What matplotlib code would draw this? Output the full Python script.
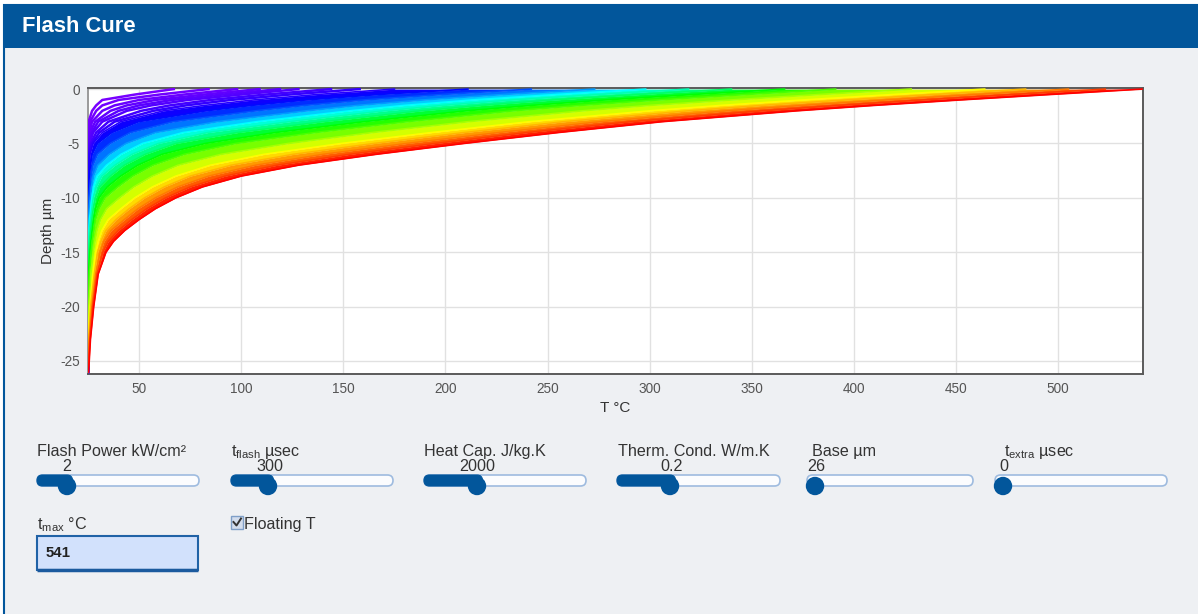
import matplotlib
matplotlib.use("Agg")
import matplotlib.pyplot as plt
from matplotlib.colors import hsv_to_rgb
from matplotlib.patches import Rectangle, FancyBboxPatch, Circle
import numpy as np

plt.rcParams['font.family'] = ['Liberation Sans', 'DejaVu Sans']
plt.rcParams['mathtext.fontset'] = 'custom'
plt.rcParams['mathtext.rm'] = 'Liberation Sans'
plt.rcParams['mathtext.it'] = 'Liberation Sans:italic'
plt.rcParams['axes.unicode_minus'] = False

### Data

# depth grid (µm below the surface), shared by every profile
depth_um = [0, 0.5, 1, 1.5, 2, 3, 4, 5, 6, 7, 8, 9, 10, 11, 12, 13, 14, 15, 17, 20, 23, 26]
n_steps = 150

# first time steps: separate purple lines
early_steps = [1, 2, 3, 4, 5, 6, 8, 10]
early_temps = [
    [67, 48, 32, 29, 27, 25.3, 25, 25, 25, 25, 25, 25, 25, 25, 25, 25, 25, 25, 25, 25, 25, 25],
    [84, 60, 40, 32, 29, 26, 25.2, 25, 25, 25, 25, 25, 25, 25, 25, 25, 25, 25, 25, 25, 25, 25],
    [98, 72, 50, 38, 32, 27, 25.6, 25, 25, 25, 25, 25, 25, 25, 25, 25, 25, 25, 25, 25, 25, 25],
    [109, 82, 58, 44, 36, 28.5, 26, 25.3, 25, 25, 25, 25, 25, 25, 25, 25, 25, 25, 25, 25, 25, 25],
    [119, 91, 66, 50, 40, 30, 26.8, 25.5, 25, 25, 25, 25, 25, 25, 25, 25, 25, 25, 25, 25, 25, 25],
    [128, 100, 74, 56, 44, 32, 27.5, 25.8, 25.2, 25, 25, 25, 25, 25, 25, 25, 25, 25, 25, 25, 25, 25],
    [144, 112, 85, 65, 51, 35, 29, 26.3, 25.4, 25, 25, 25, 25, 25, 25, 25, 25, 25, 25, 25, 25, 25],
    [158, 124, 95, 73, 57, 38, 30.5, 27, 25.6, 25.2, 25, 25, 25, 25, 25, 25, 25, 25, 25, 25, 25, 25],
]

# later time steps: dense rainbow band
main_steps = [12, 18, 27, 37, 50, 60, 70, 83, 93, 105, 117, 126, 134, 142, 150]
main_temps = [
    [175, 137, 106, 82, 62, 41, 32, 27.5, 26, 25.4, 25, 25, 25, 25, 25, 25, 25, 25, 25, 25, 25, 25],
    [211, 167, 131.5, 105, 82.6, 49.7, 36.6, 29.6, 27, 26.2, 25.6, 25.2, 25, 25, 25, 25, 25, 25, 25, 25, 25, 25],
    [242, 198, 160, 131, 107, 66.6, 45.7, 35.8, 29.6, 27.4, 26.5, 25.9, 25.4, 25, 25, 25, 25, 25, 25, 25, 25, 25],
    [273, 228, 189, 157, 132, 88.1, 58, 43.6, 35.4, 29.8, 27.7, 26.8, 26.1, 25.6, 25.3, 25, 25, 25, 25, 25, 25, 25],
    [298, 254, 213, 180, 153, 107.5, 71.5, 51.7, 41.1, 34.1, 29.4, 27.7, 26.9, 26.3, 25.7, 25.4, 25, 25, 25, 25, 25, 25],
    [319, 275, 233, 199, 170, 123.4, 83.4, 59.4, 46.5, 38.2, 31.8, 29.1, 27.6, 26.9, 26.3, 25.7, 25.4, 25, 25, 25, 25, 25],
    [340, 295, 253, 218, 188, 140, 98, 68, 53, 42.8, 35.9, 30.7, 28.7, 27.6, 26.9, 26.3, 25.8, 25.4, 25, 25, 25, 25],
    [366, 321, 278, 242, 210, 160, 116.5, 82.4, 61.2, 49.4, 41, 34.4, 30.4, 28.7, 27.7, 27, 26.4, 25.9, 25.2, 25, 25, 25],
    [391, 347, 304, 266, 233, 181, 136, 97.3, 72.1, 56.8, 46.9, 39.6, 33.3, 30.4, 28.7, 27.9, 27.1, 26.6, 25.7, 25, 25, 25],
    [428, 383, 340, 300, 267, 211, 164, 123, 90.2, 69.1, 56.5, 47.4, 40.4, 34.1, 31.1, 29.4, 28.4, 27.6, 26.4, 25.4, 25, 25],
    [464, 419, 375, 335, 300, 241, 193, 149, 111.1, 84.9, 68, 56.5, 47.9, 41.1, 34.9, 31.8, 30, 28.8, 27.4, 25.9, 25, 25],
    [484, 439, 396, 355, 319, 258, 209, 165, 125.4, 95.1, 75, 62.3, 52.7, 45.2, 38.7, 33.8, 31.4, 29.7, 28.1, 26.3, 25.3, 25],
    [505, 460, 416, 375, 338, 276, 226, 181, 140.1, 107, 84.1, 68.9, 58, 49.5, 42.8, 36.3, 32.8, 31, 28.8, 26.9, 25.6, 25],
    [523, 478, 434, 393, 355, 291, 240, 195, 153, 117.5, 92.1, 75, 63, 53.8, 46.4, 39.9, 34.9, 32.3, 29.4, 27.3, 25.9, 25],
    [541, 496, 452, 410, 372, 306, 255, 209, 166, 128, 100, 81, 68, 58, 50, 43, 37.5, 33.8, 30, 27.8, 26.2, 25.3],
]

x_ticks = [50, 100, 150, 200, 250, 300, 350, 400, 450, 500]
y_ticks = [0, -5, -10, -15, -20, -25]

# control panel texts
slider_labels = ['Flash Power kW/cm²', r'$\mathrm{t}_{\mathrm{flash}}$ µsec', 'Heat Cap. J/kg.K',
                 'Therm. Cond. W/m.K', 'Base µm', r'$\mathrm{t}_{\mathrm{extra}}$ µsec']
slider_values = ['2', '300', '2000', '0.2', '26', '0']
tmax_value = '541'

# layout (pixels): track left, track right, knob x, value text centre x
slider_track_x0 = [37, 231, 424, 617, 807, 995]
slider_track_x1 = [199, 393, 586, 780, 973, 1167]
slider_knob_x = [67, 268, 477, 670, 815, 1003]
slider_value_x = [67, 270, 477, 672, 816, 1004]
slider_label_x = [37, 231, 424, 618, 812, 1004]

blue = '#02569b'


def step_color(step):
    hue = 270.0 * (1 - step / n_steps) / 360.0
    return hsv_to_rgb([hue, 1.0, 1.0])


W, H = 1198, 614
fig = plt.figure(figsize=(W / 100, H / 100), dpi=100, facecolor='white')

# background / widget layer in pixel coordinates
bg = fig.add_axes([0, 0, 1, 1], zorder=0)
bg.set_xlim(0, W)
bg.set_ylim(H, 0)
bg.axis('off')

bg.add_patch(Rectangle((4, 5), W + 10, H + 10, facecolor='#eef0f3', edgecolor=blue, lw=1.5))
bg.add_patch(Rectangle((4, 5), W, 43, facecolor=blue, edgecolor='none'))
bg.text(22, 27, 'Flash Cure', color='white', fontsize=15.8, fontweight='bold', va='center', ha='left')

for i in range(len(slider_labels)):
    x0, x1, kx = slider_track_x0[i], slider_track_x1[i], slider_knob_x[i]
    bg.text(slider_label_x[i], 456, slider_labels[i], fontsize=11.6, color='#333333', va='baseline', ha='left')
    bg.text(slider_value_x[i], 471, slider_values[i], fontsize=11.6, color='#333333', va='baseline', ha='center')
    bg.add_patch(FancyBboxPatch((x0 + 5.5, 480.5), x1 - x0 - 11, 0, boxstyle='round,pad=5.5',
                                facecolor='#fbfcfe', edgecolor='#9ebbdf', lw=1.2))
    if kx - x0 > 11:
        bg.add_patch(FancyBboxPatch((x0 + 5.5, 480.5), kx - x0 - 5.5, 0, boxstyle='round,pad=5.5',
                                    facecolor=blue, edgecolor=blue, lw=0.8))
    bg.add_patch(Circle((kx, 486), 8.5, facecolor=blue, edgecolor=blue))

# t_max input
bg.text(37, 529, r'$\mathrm{t}_{\mathrm{max}}$ °C', fontsize=11.6, color='#333333', va='baseline', ha='left')
bg.add_patch(Rectangle((37, 536), 161, 34, facecolor='#d2e1fc', edgecolor='#2062a6', lw=1.5))
bg.plot([37, 198], [569.5, 569.5], color='#1b5a9e', lw=2.5, solid_capstyle='butt')
bg.text(46, 553, tmax_value, fontsize=10.8, fontweight='bold', color='#222222', va='center', ha='left')

# floating T checkbox
bg.add_patch(Rectangle((231, 516), 12, 12.5, facecolor='#d3dded', edgecolor='#7f9fc8', lw=1.0))
bg.plot([233.5, 236.5, 241], [522, 525.5, 518.5], color='#333333', lw=1.4)
bg.text(243.5, 528.5, 'Floating T', fontsize=11.6, color='#333333', va='baseline', ha='left')

# plot area
ax = fig.add_axes([88 / W, 1 - 374 / H, (1143 - 88) / W, (374 - 88) / H], zorder=1)
ax.set_facecolor('white')

y = -np.asarray(depth_um)

# filled bands between successive profiles
for i in range(1, len(main_steps)):
    mid = 0.5 * (main_steps[i - 1] + main_steps[i])
    ax.fill_betweenx(y, main_temps[i - 1], main_temps[i], color=step_color(mid), lw=0, zorder=2)

for s, t in zip(early_steps, early_temps):
    ax.plot(t, y, color=step_color(s), lw=1.8, zorder=3)
for s, t in zip(main_steps, main_temps):
    ax.plot(t, y, color=step_color(s), lw=1.2, zorder=3)

ax.set_xlim(25, 541.5)
ax.set_ylim(-26.2, 0.1)
ax.set_xticks(x_ticks)
ax.set_yticks(y_ticks)
ax.grid(True, color='#e1e1e1', lw=1.0, zorder=1)
ax.set_axisbelow(True)
ax.tick_params(length=0, labelsize=9.8, colors='#555555', pad=6)
for side in ['top', 'right', 'bottom']:
    ax.spines[side].set_color('#5a5a5a')
    ax.spines[side].set_linewidth(1.4)
ax.spines['left'].set_color('#9a9a9a')
ax.spines['left'].set_linewidth(1.4)

bg.text((88 + 1143) / 2, 408, 'T °C', fontsize=11, color='#333333', ha='center', va='center')
bg.text(48, 231, 'Depth µm', fontsize=11, color='#333333', ha='center', va='center', rotation=90)

fig.savefig('out.png', dpi=100, facecolor=fig.get_facecolor())
